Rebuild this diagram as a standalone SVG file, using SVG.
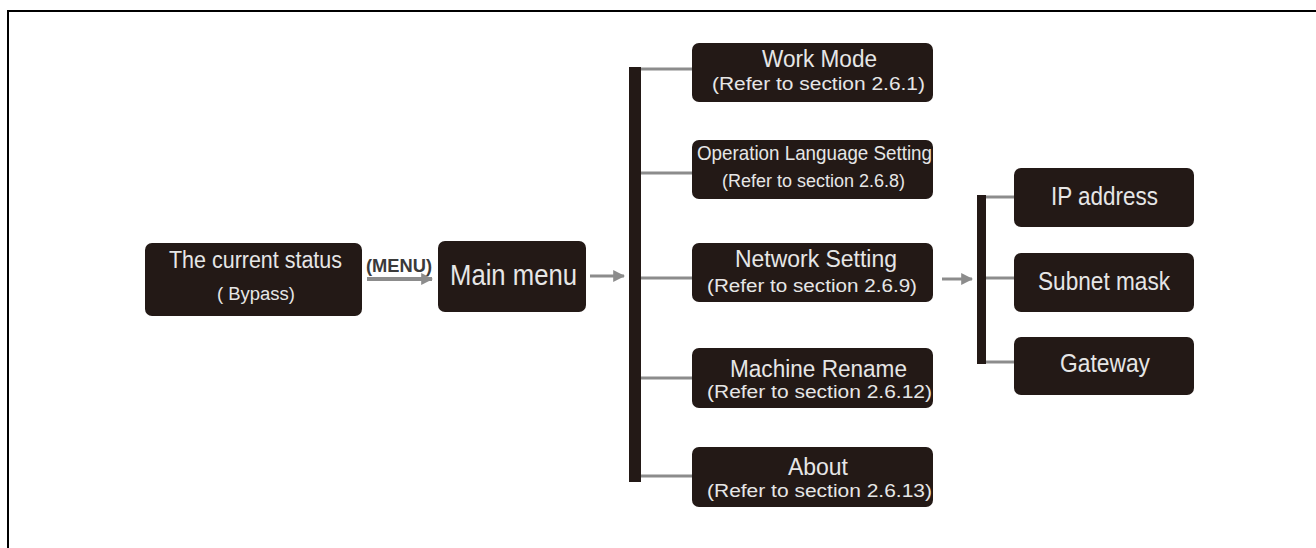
<svg xmlns="http://www.w3.org/2000/svg" width="1316" height="548" viewBox="0 0 1316 548">
<style>
.box{fill:#231916}
.t{font-family:"Liberation Sans Narrow","Liberation Sans",Arial,sans-serif;fill:#e6e6e6}
.big{font-size:23px}
.sm{font-size:18px}
.ln{stroke:#8c8c8c;stroke-width:3;fill:none}
.bar{fill:#231916}
.menu{font-family:"Liberation Sans",Arial,sans-serif;font-weight:bold;font-size:18px;fill:#3a3a3a}
</style>
<defs>
<marker id="ah" viewBox="0 0 10 10" refX="9" refY="5" markerWidth="4" markerHeight="4" orient="auto" markerUnits="strokeWidth">
<path d="M0,0 L10,5 L0,10 z" fill="#8c8c8c"/>
</marker>
<marker id="ah2" viewBox="0 0 10 10" refX="9" refY="5" markerWidth="3" markerHeight="3" orient="auto" markerUnits="strokeWidth">
<path d="M0,0 L10,5 L0,10 z" fill="#8c8c8c"/>
</marker>
</defs>
<rect width="1316" height="548" fill="#fff"/>
<path d="M8,548 L8,11 L1316,11" stroke="#000" stroke-width="2" fill="none"/>

<g id="connectors">
<line x1="367" y1="279" x2="432" y2="279" stroke="#8c8c8c" stroke-width="4" marker-end="url(#ah2)"/>
<text x="366" y="272" class="menu" textLength="66" lengthAdjust="spacingAndGlyphs">(MENU)</text>
<line x1="590" y1="276" x2="624" y2="276" class="ln" marker-end="url(#ah)"/>
<rect x="629" y="67" width="12" height="415" class="bar"/>
<line x1="641" y1="69" x2="694" y2="69" class="ln"/>
<line x1="641" y1="173" x2="694" y2="173" class="ln"/>
<line x1="641" y1="278" x2="694" y2="278" class="ln"/>
<line x1="641" y1="378" x2="694" y2="378" class="ln"/>
<line x1="641" y1="476" x2="694" y2="476" class="ln"/>
<line x1="942" y1="279" x2="972" y2="279" class="ln" marker-end="url(#ah)"/>
<rect x="977" y="195" width="9" height="169" class="bar"/>
<line x1="986" y1="197" x2="1016" y2="197" class="ln"/>
<line x1="986" y1="278" x2="1016" y2="278" class="ln"/>
<line x1="986" y1="362" x2="1016" y2="362" class="ln"/>
</g>

<g id="current-status">
<rect x="145" y="243" width="217" height="73" rx="7" class="box"/>
<text x="169" y="268" class="t big" textLength="173" lengthAdjust="spacingAndGlyphs">The current status</text>
<text x="217" y="300" class="t sm" textLength="78" lengthAdjust="spacingAndGlyphs">( Bypass)</text>
</g>

<g id="main-menu">
<rect x="438" y="241" width="148" height="71" rx="7" class="box"/>
<text x="450" y="285" class="t" font-size="30" textLength="127" lengthAdjust="spacingAndGlyphs">Main menu</text>
</g>

<g id="work-mode">
<rect x="692" y="43" width="241" height="59" rx="7" class="box"/>
<text x="762" y="67" class="t big" textLength="115" lengthAdjust="spacingAndGlyphs">Work Mode</text>
<text x="712" y="90" class="t sm" textLength="213" lengthAdjust="spacingAndGlyphs">(Refer to section 2.6.1)</text>
</g>

<g id="operation-language">
<rect x="692" y="140" width="241" height="59" rx="7" class="box"/>
<text x="697" y="160" class="t" font-size="21" textLength="235" lengthAdjust="spacingAndGlyphs">Operation Language Setting</text>
<text x="722" y="187" class="t sm" textLength="183" lengthAdjust="spacingAndGlyphs">(Refer to section 2.6.8)</text>
</g>

<g id="network-setting">
<rect x="692" y="243" width="241" height="59" rx="7" class="box"/>
<text x="735" y="267" class="t big" textLength="162" lengthAdjust="spacingAndGlyphs">Network Setting</text>
<text x="707" y="292" class="t sm" textLength="210" lengthAdjust="spacingAndGlyphs">(Refer to section 2.6.9)</text>
</g>

<g id="machine-rename">
<rect x="692" y="348" width="241" height="60" rx="7" class="box"/>
<text x="730" y="377" class="t big" textLength="177" lengthAdjust="spacingAndGlyphs">Machine Rename</text>
<text x="707" y="398" class="t sm" textLength="225" lengthAdjust="spacingAndGlyphs">(Refer to section 2.6.12)</text>
</g>

<g id="about">
<rect x="692" y="447" width="241" height="60" rx="7" class="box"/>
<text x="788" y="475" class="t big" textLength="60" lengthAdjust="spacingAndGlyphs">About</text>
<text x="707" y="497" class="t sm" textLength="225" lengthAdjust="spacingAndGlyphs">(Refer to section 2.6.13)</text>
</g>

<g id="ip-address">
<rect x="1014" y="168" width="180" height="59" rx="7" class="box"/>
<text x="1051" y="205" class="t" font-size="25" textLength="107" lengthAdjust="spacingAndGlyphs">IP address</text>
</g>

<g id="subnet-mask">
<rect x="1014" y="253" width="180" height="59" rx="7" class="box"/>
<text x="1038" y="290" class="t" font-size="25" textLength="132" lengthAdjust="spacingAndGlyphs">Subnet mask</text>
</g>

<g id="gateway">
<rect x="1014" y="337" width="180" height="58" rx="7" class="box"/>
<text x="1060" y="372" class="t" font-size="25" textLength="90" lengthAdjust="spacingAndGlyphs">Gateway</text>
</g>
</svg>
